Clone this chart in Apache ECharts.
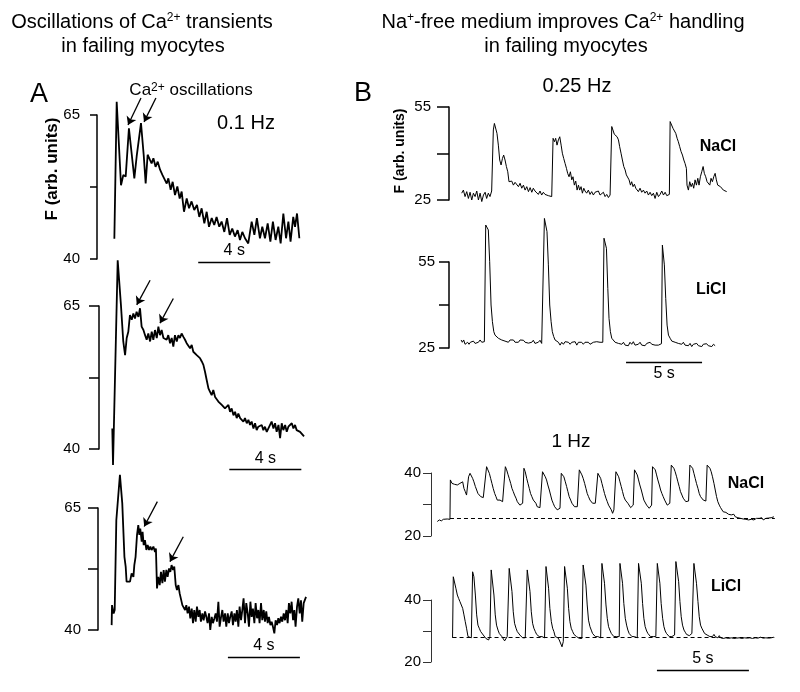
<!DOCTYPE html>
<html><head><meta charset="utf-8">
<script src="https://cdn.jsdelivr.net/npm/echarts@6/dist/echarts.min.js"></script>
<style>html,body{margin:0;padding:0;background:#fff}#c{width:800px;height:692px}</style>
</head><body><div id="c"></div>
<script>
// ---------------- DATA (time in s, fluorescence in arb. units) ----------------
const traceA1 = [[0.02,43.5],[0.15,67.3],[0.39,52.8],[0.52,54.6],[0.65,54.3],[0.83,62.7],[1.13,54.0],[1.26,57.8],[1.50,63.6],[1.65,58.1],[1.76,53.1],[1.87,58.1],[2.00,57.2],[2.09,56.6],[2.19,57.5],[2.31,56.0],[2.43,56.9],[2.56,55.5],[2.69,54.6],[2.80,54.9],[2.93,53.1],[3.02,54.0],[3.15,52.0],[3.26,53.4],[3.39,51.1],[3.52,52.6],[3.65,50.5],[3.76,51.7],[3.89,48.2],[4.04,50.5],[4.17,48.8],[4.31,50.0],[4.46,48.5],[4.61,49.4],[4.74,47.3],[4.87,48.8],[5.02,46.2],[5.15,48.2],[5.28,45.6],[5.43,47.1],[5.57,45.9],[5.70,47.3],[5.85,45.6],[5.98,46.5],[6.13,44.7],[6.28,47.1],[6.43,44.2],[6.57,45.3],[6.72,43.9],[6.87,45.0],[7.00,43.3],[7.13,44.7],[7.28,43.6],[7.46,42.7],[7.65,46.5],[7.80,44.2],[7.94,47.1],[8.11,43.6],[8.24,45.6],[8.39,43.6],[8.54,46.2],[8.69,43.0],[8.83,46.5],[8.98,43.3],[9.13,45.6],[9.26,42.7],[9.41,47.9],[9.56,43.6],[9.69,46.5],[9.81,43.0],[9.96,47.3],[10.06,45.6],[10.17,47.9],[10.30,43.6]];

const traceA2 = [[-0.04,43.6],[0.00,37.2],[0.26,73.0],[0.44,65.2],[0.57,58.8],[0.67,56.4],[0.76,59.4],[0.85,60.5],[0.94,63.4],[1.04,62.6],[1.13,63.7],[1.22,62.8],[1.31,64.0],[1.41,63.1],[1.50,64.6],[1.59,61.4],[1.69,60.8],[1.78,59.9],[1.87,59.1],[1.96,60.2],[2.06,58.8],[2.15,60.5],[2.24,59.1],[2.33,60.8],[2.43,59.4],[2.52,61.4],[2.61,59.9],[2.70,60.8],[2.80,59.4],[2.89,59.6],[2.98,59.1],[3.07,59.9],[3.17,58.5],[3.26,59.4],[3.35,57.9],[3.44,59.9],[3.54,58.8],[3.63,59.9],[3.72,59.4],[3.81,60.2],[3.91,59.6],[4.00,59.1],[4.09,58.5],[4.19,58.5],[4.28,57.6],[4.37,58.2],[4.46,57.0],[4.56,57.3],[4.65,56.4],[4.74,56.7],[4.83,55.9],[4.93,55.3],[5.02,54.7],[5.11,53.5],[5.20,52.1],[5.30,50.6],[5.39,50.0],[5.48,49.4],[5.57,50.3],[5.67,49.1],[5.76,48.9],[5.85,48.3],[5.94,48.6],[6.04,47.7],[6.13,48.0],[6.22,47.1],[6.31,47.4],[6.41,47.7],[6.50,46.5],[6.59,47.1],[6.69,45.9],[6.78,46.5],[6.87,45.4],[6.96,46.2],[7.06,45.4],[7.15,45.6],[7.24,44.8],[7.33,45.4],[7.43,44.5],[7.52,45.1],[7.61,44.2],[7.70,44.8],[7.80,43.6],[7.89,44.5],[7.98,43.3],[8.07,43.9],[8.17,43.6],[8.26,44.2],[8.35,43.3],[8.44,43.9],[8.54,43.0],[8.63,43.6],[8.72,43.3],[8.81,44.8],[8.91,43.6],[9.00,44.5],[9.09,43.0],[9.19,44.2],[9.28,41.9],[9.37,44.5],[9.46,43.3],[9.56,44.2],[9.65,43.0],[9.74,43.9],[9.83,43.6],[9.93,44.5],[10.02,43.6],[10.11,44.2],[10.20,43.3],[10.30,43.6],[10.39,43.0],[10.48,43.3],[10.61,42.2]];

const traceA3 = [[-0.02,41.0],[0.00,45.1],[0.09,43.4],[0.15,44.1],[0.24,62.5],[0.31,62.9],[0.44,71.8],[0.57,66.0],[0.69,55.0],[0.76,53.0],[0.81,49.9],[0.91,50.2],[1.00,49.9],[1.09,51.6],[1.19,50.9],[1.24,53.3],[1.31,55.0],[1.39,59.5],[1.46,61.5],[1.52,59.5],[1.57,60.8],[1.65,58.1],[1.70,60.1],[1.76,57.4],[1.83,58.4],[1.91,56.4],[1.98,57.4],[2.06,56.4],[2.13,57.1],[2.20,56.4],[2.30,57.1],[2.39,56.0],[2.44,56.7],[2.50,48.5],[2.57,50.9],[2.65,49.2],[2.72,51.9],[2.80,49.6],[2.87,52.3],[2.94,49.9],[3.02,52.3],[3.09,50.9],[3.17,52.6],[3.24,51.9],[3.31,53.3],[3.39,52.3],[3.46,53.0],[3.54,49.2],[3.61,48.2],[3.69,49.2],[3.76,47.5],[3.83,47.2],[3.91,45.1],[3.98,45.5],[4.06,44.1],[4.13,45.1],[4.20,43.4],[4.28,44.8],[4.35,42.4],[4.43,44.4],[4.50,41.4],[4.57,44.1],[4.65,41.7],[4.72,44.8],[4.80,42.7],[4.87,44.1],[4.94,41.7],[5.02,43.4],[5.09,42.0],[5.17,43.8],[5.24,42.7],[5.31,41.4],[5.39,43.4],[5.46,40.0],[5.54,42.7],[5.61,41.4],[5.69,42.4],[5.76,43.4],[5.83,41.7],[5.91,45.8],[5.98,40.7],[6.06,42.7],[6.13,44.1],[6.20,41.7],[6.28,43.4],[6.35,40.7],[6.43,43.4],[6.50,41.4],[6.57,42.7],[6.65,43.8],[6.72,41.0],[6.80,43.4],[6.87,41.7],[6.94,44.1],[7.02,40.7],[7.09,44.8],[7.17,42.0],[7.24,44.1],[7.31,46.5],[7.39,41.4],[7.46,45.5],[7.54,43.4],[7.61,40.7],[7.69,45.8],[7.76,42.7],[7.83,44.4],[7.91,41.4],[7.98,45.5],[8.06,42.4],[8.13,44.1],[8.20,41.4],[8.28,45.5],[8.35,42.0],[8.43,44.1],[8.50,41.7],[8.57,43.8],[8.65,41.4],[8.72,42.7],[8.80,41.0],[8.87,41.7],[8.94,40.7],[9.02,39.3],[9.09,42.0],[9.17,41.0],[9.24,42.4],[9.31,41.4],[9.39,42.7],[9.46,41.7],[9.54,43.4],[9.61,42.0],[9.69,44.1],[9.76,41.4],[9.83,45.5],[9.91,43.4],[9.98,45.8],[10.06,42.0],[10.13,44.1],[10.20,40.7],[10.28,44.8],[10.35,46.5],[10.43,43.4],[10.50,46.1],[10.57,41.7],[10.65,45.5],[10.78,46.8]];

const traceB1 = [[0,27.2],[0.11,28.2],[0.22,26.1],[0.33,27.7],[0.44,25.5],[0.55,27.5],[0.66,25.0],[0.77,27.2],[0.88,26.1],[0.99,27.9],[1.10,25.0],[1.21,27.2],[1.32,24.5],[1.43,26.6],[1.54,27.5],[1.64,25.5],[1.75,27.2],[1.86,26.1],[1.97,27.9],[2.04,28.2],[2.08,47.6],[2.15,49.7],[2.24,49.2],[2.32,46.5],[2.41,42.7],[2.50,37.9],[2.59,36.3],[2.68,38.4],[2.76,39.5],[2.85,37.9],[2.94,35.8],[3.03,34.1],[3.11,30.9],[3.20,30.4],[3.29,31.1],[3.40,29.8],[3.51,30.7],[3.62,30.1],[3.73,29.3],[3.84,30.4],[3.95,28.8],[4.06,29.8],[4.17,28.2],[4.28,29.3],[4.39,27.7],[4.50,29.0],[4.61,27.5],[4.71,28.8],[4.82,27.9],[4.93,28.5],[5.04,26.8],[5.15,27.9],[5.26,26.6],[5.37,27.5],[5.48,26.8],[5.59,27.2],[5.70,26.4],[5.81,26.8],[5.92,26.1],[5.96,26.6],[6.01,44.9],[6.10,43.8],[6.18,44.9],[6.27,42.7],[6.36,44.4],[6.45,45.4],[6.54,42.7],[6.62,40.1],[6.71,38.4],[6.80,36.8],[6.89,35.2],[6.97,33.6],[7.06,32.5],[7.15,34.1],[7.24,31.5],[7.32,32.5],[7.41,29.8],[7.50,31.1],[7.59,28.2],[7.68,29.8],[7.76,28.2],[7.85,29.3],[7.94,27.2],[8.03,28.8],[8.11,27.9],[8.22,27.2],[8.33,28.2],[8.44,26.8],[8.55,27.7],[8.66,26.6],[8.77,27.5],[8.88,27.5],[8.99,27.9],[9.10,26.6],[9.21,27.2],[9.32,27.5],[9.43,26.1],[9.54,26.8],[9.65,25.8],[9.76,26.6],[9.82,26.8],[9.87,48.7],[9.96,48.1],[10.04,46.2],[10.13,46.5],[10.22,45.4],[10.31,44.4],[10.39,42.2],[10.48,40.1],[10.57,37.9],[10.66,35.8],[10.75,34.7],[10.83,33.1],[10.92,32.5],[11.01,31.5],[11.10,29.8],[11.18,30.9],[11.27,29.3],[11.36,30.1],[11.45,28.8],[11.54,29.3],[11.62,27.7],[11.73,28.8],[11.84,27.5],[11.95,28.2],[12.06,27.2],[12.17,27.9],[12.28,26.6],[12.39,27.5],[12.50,26.4],[12.61,27.2],[12.72,25.5],[12.83,27.5],[12.94,26.1],[13.05,26.8],[13.16,27.9],[13.27,26.6],[13.38,27.5],[13.49,26.4],[13.60,26.8],[13.66,26.8],[13.71,50.3],[13.82,49.7],[13.90,48.1],[13.99,48.7],[14.08,46.5],[14.17,44.9],[14.25,43.8],[14.34,42.2],[14.43,40.6],[14.52,39.5],[14.61,37.9],[14.69,36.8],[14.78,35.2],[14.82,29.8],[14.91,28.2],[15.00,30.9],[15.09,29.3],[15.18,30.4],[15.26,28.8],[15.35,31.5],[15.44,29.8],[15.53,32.0],[15.61,29.8],[15.70,32.5],[15.79,34.1],[15.88,35.8],[15.96,33.6],[16.05,32.5],[16.14,30.9],[16.23,31.5],[16.32,29.8],[16.40,32.0],[16.49,30.9],[16.58,32.5],[16.67,33.6],[16.75,31.5],[16.84,29.8],[16.93,30.4],[17.02,29.3],[17.11,29.8],[17.21,28.2],[17.32,28.8],[17.43,27.7]];

const traceB2 = [[-0.04,27.8],[0.04,27.0],[0.13,27.8],[0.22,26.3],[0.31,25.8],[0.39,27.0],[0.48,26.3],[0.57,27.0],[0.66,26.6],[0.77,27.4],[0.88,26.6],[0.99,27.2],[1.10,27.0],[1.21,27.8],[1.32,27.0],[1.43,27.2],[1.49,27.2],[1.58,67.9],[1.67,68.5],[1.75,66.2],[1.84,55.1],[1.93,40.0],[2.02,34.2],[2.11,30.7],[2.19,29.5],[2.30,29.0],[2.41,28.4],[2.52,28.6],[2.63,27.8],[2.74,28.4],[2.85,27.4],[2.96,28.0],[3.07,27.0],[3.18,27.8],[3.29,27.2],[3.40,27.8],[3.51,27.0],[3.62,27.4],[3.73,27.0],[3.84,27.8],[3.95,27.2],[4.06,27.7],[4.17,27.0],[4.28,27.4],[4.39,26.7],[4.50,27.2],[4.61,27.0],[4.71,27.7],[4.82,26.6],[4.93,27.2],[5.04,27.0],[5.15,27.7],[5.26,26.6],[5.35,27.0],[5.44,70.2],[5.53,70.5],[5.61,65.6],[5.70,54.0],[5.79,40.0],[5.88,34.2],[5.96,30.7],[6.05,29.0],[6.14,27.8],[6.25,28.4],[6.36,27.0],[6.47,26.0],[6.58,27.0],[6.69,26.3],[6.80,27.2],[6.91,26.6],[7.02,27.0],[7.13,26.3],[7.24,27.0],[7.35,26.6],[7.46,27.2],[7.57,26.0],[7.68,27.0],[7.79,26.6],[7.89,27.0],[8.00,26.3],[8.11,27.0],[8.22,26.5],[8.33,27.0],[8.44,26.3],[8.55,26.6],[8.66,27.0],[8.77,26.6],[8.88,27.2],[8.99,27.0],[9.10,27.0],[9.21,27.2],[9.28,27.0],[9.36,63.3],[9.43,63.8],[9.52,59.8],[9.61,45.8],[9.69,35.3],[9.78,30.7],[9.87,28.4],[9.98,27.8],[10.09,27.0],[10.20,27.2],[10.31,26.6],[10.42,27.2],[10.53,26.3],[10.64,27.0],[10.75,26.0],[10.86,26.6],[10.96,25.8],[11.07,27.0],[11.18,26.3],[11.29,27.2],[11.40,26.0],[11.51,26.6],[11.62,26.3],[11.73,27.0],[11.84,26.0],[11.95,26.5],[12.06,25.8],[12.17,26.6],[12.28,26.0],[12.39,27.0],[12.50,26.3],[12.61,26.5],[12.72,26.0],[12.83,26.6],[12.94,26.0],[13.05,26.3],[13.14,26.5],[13.20,60.9],[13.27,60.3],[13.33,54.0],[13.42,42.3],[13.51,33.0],[13.60,29.5],[13.71,28.4],[13.82,27.4],[13.93,27.8],[14.04,27.0],[14.14,27.4],[14.25,26.6],[14.36,27.2],[14.47,26.3],[14.58,27.0],[14.69,26.0],[14.80,26.6],[14.91,25.8],[15.02,26.6],[15.13,25.5],[15.24,26.3],[15.35,25.8],[15.46,26.6],[15.57,25.8],[15.68,26.3],[15.79,25.5],[15.89,26.3],[16.00,25.8],[16.11,26.5],[16.22,25.8],[16.33,26.3],[16.45,25.5],[16.56,26.3],[16.67,25.8]];

const traceB3 = [[0,24.6],[0.11,25.1],[0.22,24.8],[0.33,25.3],[0.43,25.1],[0.54,25.4],[0.62,25.3],[0.69,25.3],[0.71,37.8],[0.80,36.7],[0.87,37.2],[0.94,36.4],[1.01,36.7],[1.09,36.2],[1.16,35.7],[1.23,36.7],[1.30,36.2],[1.38,37.2],[1.45,35.1],[1.52,34.1],[1.59,33.0],[1.65,32.5],[1.70,38.8],[1.78,39.9],[1.85,39.4],[1.92,38.3],[1.99,37.2],[2.07,35.7],[2.14,34.6],[2.21,33.5],[2.28,33.0],[2.36,32.5],[2.43,32.0],[2.50,32.2],[2.57,32.5],[2.68,42.0],[2.75,41.0],[2.83,39.9],[2.90,38.3],[2.97,36.7],[3.04,35.1],[3.12,33.5],[3.19,32.5],[3.26,31.4],[3.33,30.9],[3.41,31.4],[3.48,31.1],[3.55,30.9],[3.62,31.4],[3.70,42.0],[3.77,41.0],[3.84,39.6],[3.91,38.3],[3.99,36.7],[4.06,35.1],[4.13,34.1],[4.20,33.0],[4.28,32.0],[4.35,30.9],[4.42,30.4],[4.49,29.8],[4.57,30.1],[4.64,30.4],[4.71,41.5],[4.78,40.4],[4.86,38.3],[4.93,36.7],[5.00,35.1],[5.07,33.5],[5.14,32.5],[5.22,31.4],[5.29,30.9],[5.36,30.4],[5.43,29.3],[5.51,28.8],[5.58,29.0],[5.65,29.3],[5.72,40.4],[5.80,39.9],[5.87,38.8],[5.94,37.8],[6.01,36.2],[6.09,34.6],[6.16,33.0],[6.23,31.4],[6.30,30.4],[6.38,29.3],[6.45,28.8],[6.52,28.3],[6.59,28.5],[6.67,28.8],[6.74,39.9],[6.81,39.4],[6.88,38.8],[6.96,37.2],[7.03,35.7],[7.10,34.1],[7.17,32.5],[7.25,31.4],[7.32,30.4],[7.39,29.8],[7.46,29.3],[7.54,29.0],[7.61,29.3],[7.66,29.8],[7.72,41.0],[7.79,40.4],[7.86,39.4],[7.93,38.3],[8.01,36.7],[8.08,35.1],[8.15,33.5],[8.22,32.5],[8.30,31.4],[8.37,30.9],[8.44,30.4],[8.51,29.8],[8.59,30.4],[8.66,30.1],[8.73,39.9],[8.80,39.4],[8.88,38.3],[8.95,36.7],[9.02,35.1],[9.09,33.5],[9.17,32.0],[9.24,30.9],[9.31,29.8],[9.38,29.3],[9.46,28.3],[9.53,27.2],[9.60,28.3],[9.66,28.8],[9.71,40.4],[9.78,39.9],[9.86,38.8],[9.93,37.2],[10.00,35.7],[10.07,34.1],[10.14,32.5],[10.22,31.4],[10.29,30.9],[10.36,30.4],[10.43,29.8],[10.51,29.0],[10.58,29.3],[10.65,29.8],[10.72,41.0],[10.80,40.4],[10.87,39.4],[10.94,37.8],[11.01,36.2],[11.09,34.6],[11.16,33.0],[11.23,31.4],[11.30,30.9],[11.38,29.8],[11.45,29.3],[11.52,28.8],[11.59,29.0],[11.65,29.8],[11.70,42.0],[11.78,41.5],[11.85,41.0],[11.92,39.4],[11.99,37.8],[12.07,36.2],[12.14,34.6],[12.21,33.5],[12.28,32.5],[12.36,31.4],[12.43,30.9],[12.50,29.8],[12.57,30.1],[12.64,30.4],[12.72,42.5],[12.79,42.0],[12.86,41.5],[12.93,40.4],[13.01,38.8],[13.08,37.2],[13.15,35.7],[13.22,34.1],[13.30,33.0],[13.37,32.0],[13.44,31.4],[13.51,30.9],[13.59,31.4],[13.66,31.1],[13.73,42.5],[13.80,42.0],[13.88,41.5],[13.95,39.9],[14.02,38.3],[14.09,36.7],[14.17,35.1],[14.24,33.5],[14.31,32.5],[14.38,32.0],[14.46,31.4],[14.53,30.9],[14.60,31.1],[14.64,31.4],[14.67,42.5],[14.75,42.3],[14.82,41.5],[14.89,40.4],[14.96,38.8],[15.04,36.7],[15.11,34.6],[15.18,32.5],[15.25,30.9],[15.33,29.8],[15.40,29.0],[15.47,28.6],[15.54,27.7],[15.62,28.3],[15.69,27.5],[15.76,27.2],[15.83,26.9],[15.91,27.1],[15.98,26.7],[16.05,26.3],[16.12,26.9],[16.20,26.1],[16.27,26.5],[16.34,25.8],[16.41,26.2],[16.49,25.6],[16.56,26.0],[16.63,25.4],[16.70,25.8],[16.78,25.3],[16.85,25.6],[16.92,25.1],[16.99,25.6],[17.07,25.3],[17.14,25.8],[17.21,25.1],[17.28,25.4],[17.35,25.6],[17.43,25.0],[17.50,25.6],[17.57,25.2],[17.64,25.8],[17.72,25.1],[17.79,25.4],[17.86,25.6],[17.93,25.1],[18.01,25.7],[18.08,25.3],[18.15,25.8],[18.22,25.6],[18.30,26.1]];

const traceB4 = [[0.83,27.8],[0.87,47.5],[0.94,47.0],[1.01,43.8],[1.09,41.6],[1.16,40.5],[1.23,39.5],[1.30,38.9],[1.38,37.3],[1.45,35.2],[1.52,33.0],[1.59,30.9],[1.67,28.2],[1.74,27.6],[1.85,27.8],[1.92,49.1],[1.99,47.5],[2.07,41.6],[2.14,35.2],[2.21,31.9],[2.28,30.9],[2.36,29.8],[2.43,29.2],[2.50,28.7],[2.57,28.2],[2.64,27.6],[2.72,27.8],[2.79,27.1],[2.86,28.2],[2.90,28.2],[2.93,49.7],[3.01,49.1],[3.08,41.6],[3.15,35.2],[3.22,31.9],[3.30,30.3],[3.37,29.2],[3.44,28.7],[3.51,28.2],[3.59,27.8],[3.66,26.8],[3.73,27.1],[3.80,28.2],[3.88,28.2],[3.91,50.2],[3.99,49.7],[4.06,42.7],[4.13,36.2],[4.20,32.5],[4.28,30.9],[4.35,29.8],[4.42,29.2],[4.49,28.7],[4.57,28.2],[4.64,27.8],[4.71,27.4],[4.78,27.8],[4.86,27.8],[4.89,49.7],[4.96,49.1],[5.04,42.7],[5.11,36.2],[5.18,32.5],[5.25,30.9],[5.33,29.8],[5.40,28.9],[5.47,28.7],[5.54,28.2],[5.62,27.8],[5.69,28.2],[5.76,27.6],[5.83,27.8],[5.87,28.2],[5.91,50.8],[5.98,50.2],[6.05,43.8],[6.12,37.3],[6.20,33.0],[6.27,30.9],[6.34,29.8],[6.41,28.2],[6.49,27.6],[6.56,27.8],[6.63,27.1],[6.70,26.6],[6.78,24.9],[6.85,26.6],[6.88,27.1],[6.92,50.8],[6.99,50.2],[7.07,43.8],[7.14,37.3],[7.21,33.0],[7.28,30.9],[7.36,29.8],[7.43,28.9],[7.50,28.7],[7.57,28.2],[7.64,27.8],[7.72,27.6],[7.79,28.2],[7.86,27.6],[7.90,27.8],[7.93,51.3],[8.01,50.8],[8.08,44.8],[8.15,38.4],[8.22,33.5],[8.30,31.4],[8.37,30.3],[8.44,29.2],[8.51,28.7],[8.59,28.2],[8.66,27.8],[8.73,28.2],[8.80,27.6],[8.88,27.8],[8.95,51.8],[9.02,51.3],[9.09,45.4],[9.17,38.4],[9.24,34.1],[9.31,31.4],[9.38,30.3],[9.46,29.2],[9.53,28.7],[9.60,28.2],[9.67,27.8],[9.75,28.2],[9.82,27.8],[9.89,28.2],[9.93,51.8],[10.00,51.3],[10.07,45.4],[10.14,38.9],[10.22,34.1],[10.29,31.9],[10.36,30.3],[10.43,29.2],[10.51,28.7],[10.58,28.2],[10.65,27.8],[10.72,28.2],[10.80,27.6],[10.87,27.8],[10.94,51.8],[11.01,51.3],[11.09,45.4],[11.16,38.9],[11.23,34.1],[11.30,31.4],[11.38,30.0],[11.45,29.2],[11.52,28.7],[11.59,28.2],[11.67,27.8],[11.74,28.2],[11.81,27.8],[11.88,28.2],[11.96,51.8],[12.03,51.3],[12.10,45.4],[12.17,38.9],[12.25,34.1],[12.32,31.4],[12.39,30.0],[12.46,29.2],[12.54,28.7],[12.61,28.2],[12.68,27.8],[12.75,28.2],[12.83,27.8],[12.90,28.7],[12.97,52.4],[13.04,52.2],[13.12,45.9],[13.19,39.5],[13.26,34.6],[13.33,31.9],[13.41,30.3],[13.48,29.6],[13.55,28.9],[13.62,28.7],[13.70,28.5],[13.77,28.7],[13.84,29.2],[13.91,29.2],[13.95,51.8],[14.02,51.3],[14.09,45.4],[14.17,39.5],[14.24,34.6],[14.31,31.9],[14.38,30.9],[14.46,30.0],[14.53,29.2],[14.60,28.9],[14.67,28.7],[14.75,29.2],[14.82,28.2],[14.89,28.7],[14.96,28.2],[15.04,28.9],[15.11,28.2],[15.18,28.5],[15.25,27.8],[15.33,28.5],[15.40,27.8],[15.47,28.3],[15.54,27.6],[15.62,28.2],[15.69,27.8],[15.76,28.3],[15.83,27.6],[15.91,28.2],[15.98,27.8],[16.05,28.4],[16.12,27.6],[16.20,28.2],[16.27,27.7],[16.34,28.3],[16.41,27.8],[16.49,28.2],[16.56,27.6],[16.63,28.1],[16.70,27.8],[16.78,28.3],[16.85,27.7],[16.92,28.2],[16.99,27.8],[17.07,28.3],[17.14,27.6],[17.21,28.2],[17.28,27.8],[17.35,28.3],[17.43,27.7],[17.50,28.2],[17.57,28.0],[17.64,28.3],[17.72,27.7],[17.79,28.2],[17.86,27.8],[17.93,28.2],[18.01,27.7],[18.08,28.2],[18.15,27.8],[18.22,28.1],[18.30,28.0]];

// y-axis ticks (min, middle, max) per panel
const ticksA = [40, 52.5, 65];
const ticksB25 = [25, 40, 55];
const ticksB1Hz = [20, 30, 40];

// arrows pointing at Ca2+ oscillations: [start, tip] in (s, F)
const arrowsA1 = [[[1.50,67.95],[0.78,63.26]], [[2.33,67.95],[1.67,63.8]]];
const arrowsA2 = [[[2.06,69.5],[1.32,65.2]], [[3.35,66.3],[2.61,62.0]]];
const arrowsA3 = [[[2.52,66.3],[1.79,61.2]], [[3.96,59.1],[3.22,54.0]]];

// scale bars (s, F)
const scaleA1 = [[4.68,39.5],[8.68,39.5]];
const scaleA2 = [[6.46,36.45],[10.46,36.45]];
const scaleA3 = [[6.44,34.47],[10.44,34.47]];
const scaleB2 = [[10.81,20.12],[15.81,20.12]];
const scaleB4 = [[11.94,17.42],[16.94,17.42]];

// diastolic reference (dashed) lines
const baseB3 = [[0.69,25.6],[18.35,25.6]];
const baseB4 = [[0.83,27.85],[18.35,27.85]];

// ---------------- CHART ----------------
const FONT = "'Liberation Sans', Arial, sans-serif";
const chart = echarts.init(document.getElementById('c'), null, {renderer: 'canvas'});

// layout per panel: grid px box and x range (s)
const panels = [
  {left:97,  top:115, width:211, height:144, xmin:-0.944, xmax:10.78, ticks:ticksA,   tickLen:7,  margin:17, axisW:1.5, axisC:'#000'},
  {left:99,  top:306, width:209, height:143, xmin:-0.778, xmax:10.83, ticks:ticksA,   tickLen:10, margin:19, axisW:1.5, axisC:'#000'},
  {left:98,  top:508, width:210, height:122, xmin:-0.778, xmax:10.89, ticks:ticksA,   tickLen:10, margin:17, axisW:1.5, axisC:'#000'},
  {left:449, top:107, width:290, height:93,  xmin:-0.836, xmax:18.24, ticks:ticksB25, tickLen:12, margin:18, axisW:1.5, axisC:'#000'},
  {left:449, top:262, width:290, height:86,  xmin:-0.836, xmax:18.24, ticks:ticksB25, tickLen:10, margin:14, axisW:1.5, axisC:'#000'},
  {left:431, top:473, width:349, height:63,  xmin:-0.342, xmax:18.63, ticks:ticksB1Hz, tickLen:8, margin:10, axisW:1,   axisC:'#333'},
  {left:431, top:600, width:349, height:62,  xmin:-0.342, xmax:18.63, ticks:ticksB1Hz, tickLen:8, margin:10, axisW:1,   axisC:'#333'}
];

const grid = panels.map(p => ({left:p.left, top:p.top, width:p.width, height:p.height, containLabel:false, outerBoundsMode:'none'}));
const xAxis = panels.map((p,i) => ({type:'value', gridIndex:i, min:p.xmin, max:p.xmax, show:false}));
const yAxis = panels.map((p,i) => {
  const [lo, mid, hi] = p.ticks;
  return {
    type:'value', gridIndex:i, min:lo, max:hi, interval:mid-lo,
    splitLine:{show:false},
    axisLine:{show:true, onZero:false, lineStyle:{color:p.axisC, width:p.axisW}},
    axisTick:{show:true, length:p.tickLen, lineStyle:{color:p.axisC, width:p.axisW}, customValues:[lo, mid, hi]},
    axisLabel:{show:true, customValues:[lo, hi], formatter: v => (v===lo||v===hi) ? String(v) : '',
               fontSize:15, fontFamily:FONT, color:'#000', margin:p.margin, showMinLabel:true, showMaxLabel:true}
  };
});

const traces = [traceA1, traceA2, traceA3, traceB1, traceB2, traceB3, traceB4];
const series = traces.map((d,i) => ({
  type:'line', xAxisIndex:i, yAxisIndex:i, data:d, showSymbol:false, symbol:'none', clip:false,
  lineStyle:{color:'#000', width: i < 3 ? 1.8 : 1}, silent:true, z:3
}));

function arrowSeries(i, arr) {
  return {type:'lines', coordinateSystem:'cartesian2d', xAxisIndex:i, yAxisIndex:i, clip:false, silent:true,
    symbol:['none','arrow'], symbolSize:8,
    lineStyle:{color:'#000', width:1.3, opacity:1, curveness:0},
    data: arr.map(c => ({coords:c}))};
}
function barSeries(i, coords, text, pos, dist) {
  return {type:'lines', coordinateSystem:'cartesian2d', xAxisIndex:i, yAxisIndex:i, clip:false, silent:true,
    symbol:'none', lineStyle:{color:'#000', width:1.3, opacity:1, curveness:0},
    label:{show:true, position:pos, distance:dist, formatter:text, fontSize:16, fontFamily:FONT, color:'#000'},
    data:[{coords:coords}]};
}
function dashSeries(i, coords) {
  return {type:'lines', coordinateSystem:'cartesian2d', xAxisIndex:i, yAxisIndex:i, clip:false, silent:true,
    symbol:'none', lineStyle:{color:'#000', width:1, opacity:1, type:[4,3], curveness:0},
    data:[{coords:coords}], z:2};
}
series.push(arrowSeries(0, arrowsA1), arrowSeries(1, arrowsA2), arrowSeries(2, arrowsA3));
series.push(barSeries(0, scaleA1, '4 s', 'insideMiddleTop', 3));
series.push(barSeries(1, scaleA2, '4 s', 'insideMiddleTop', 3));
series.push(barSeries(2, scaleA3, '4 s', 'insideMiddleTop', 3));
series.push(barSeries(4, scaleB2, '5 s', 'insideMiddleBottom', 4));
series.push(barSeries(6, scaleB4, '5 s', 'insideMiddleTop', 3));
series.push(dashSeries(5, baseB3), dashSeries(6, baseB4));

const RICH = {s:{fontSize:12, fontFamily:FONT, verticalAlign:'top', lineHeight:14}};
function txt(x, y, text, size, bold, rot) {
  return {type:'text', x:x, y:y, rotation: rot || 0, silent:true,
    style:{text:text, fontSize:size, fontFamily:FONT, fontWeight: bold ? 'bold' : 'normal', fill:'#000',
      align:'center', verticalAlign:'middle', textAlign:'center', textVerticalAlign:'middle', rich:RICH}};
}
const graphic = [
  txt(142, 22, 'Oscillations of Ca{s|2+} transients', 20),
  txt(143, 46, 'in failing myocytes', 20),
  txt(563, 22, 'Na{s|+}-free medium improves Ca{s|2+} handling', 20),
  txt(566, 46, 'in failing myocytes', 20),
  txt(39, 95, 'A', 27),
  txt(363, 94, 'B', 27),
  txt(191, 90, 'Ca{s|2+} oscillations', 17),
  txt(246, 123, '0.1 Hz', 20),
  txt(577, 86, '0.25 Hz', 20),
  txt(571, 442, '1 Hz', 19),
  txt(52, 169, 'F (arb. units)', 17, true, Math.PI/2),
  txt(400, 151, 'F (arb. units)', 14, true, Math.PI/2),
  txt(718, 147, 'NaCl', 16, true),
  txt(711, 290, 'LiCl', 16, true),
  txt(746, 484, 'NaCl', 16, true),
  txt(726, 587, 'LiCl', 16, true)
];

chart.setOption({animation:false, backgroundColor:'#fff', grid, xAxis, yAxis, series, graphic});
</script></body></html>
